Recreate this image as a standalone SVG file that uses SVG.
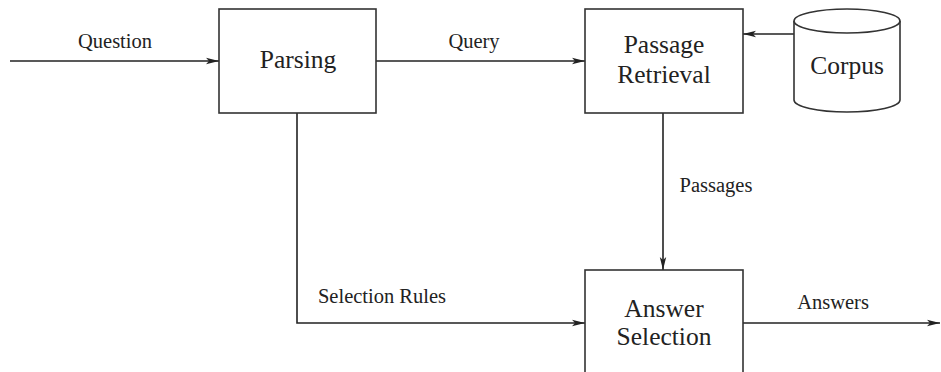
<svg xmlns="http://www.w3.org/2000/svg" width="941" height="372" viewBox="0 0 941 372">
<defs>
<style>
.box{fill:#fff;stroke:#333;stroke-width:1.6}
.edge{fill:none;stroke:#222;stroke-width:1.6}
.big{font-family:"Liberation Serif",serif;font-size:25.5px;fill:#222;text-anchor:middle}
.lbl{font-family:"Liberation Serif",serif;font-size:20.5px;fill:#222;text-anchor:middle}
</style>
<marker id="arr" markerWidth="14" markerHeight="8" refX="13" refY="4" orient="auto" markerUnits="userSpaceOnUse">
<path d="M0,0.8 L13,4 L0,7.2 L3,4 Z" fill="#222"/>
</marker>
</defs>
<rect width="941" height="372" fill="#fff"/>
<g id="connectors">
<line class="edge" x1="10" y1="61" x2="219" y2="61" marker-end="url(#arr)"/>
<text class="lbl" x="115" y="48">Question</text>
<line class="edge" x1="376" y1="61" x2="585" y2="61" marker-end="url(#arr)"/>
<text class="lbl" x="474" y="48">Query</text>
<line class="edge" x1="794" y1="34" x2="743" y2="34" marker-end="url(#arr)"/>
<line class="edge" x1="663" y1="113" x2="663" y2="270" marker-end="url(#arr)"/>
<text class="lbl" x="716" y="192">Passages</text>
<polyline class="edge" points="297,113 297,323 585,323" marker-end="url(#arr)"/>
<text class="lbl" x="382" y="303">Selection Rules</text>
<line class="edge" x1="743" y1="323" x2="940" y2="323" marker-end="url(#arr)"/>
<text class="lbl" x="833" y="309">Answers</text>
</g>
<g id="parsing">
<rect class="box" x="219" y="9" width="157" height="104"/>
<text class="big" x="298" y="68">Parsing</text>
</g>
<g id="passage-retrieval">
<rect class="box" x="585" y="9" width="158" height="104"/>
<text class="big" x="664" y="53">Passage</text>
<text class="big" x="664" y="83">Retrieval</text>
</g>
<g id="corpus">
<path class="box" d="M794,21 L794,100 A53,12 0 0 0 900,100 L900,21"/>
<ellipse class="box" cx="847" cy="21" rx="53" ry="12"/>
<text class="big" x="847" y="74">Corpus</text>
</g>
<g id="answer-selection">
<rect class="box" x="585" y="270" width="158" height="115"/>
<text class="big" x="664" y="317">Answer</text>
<text class="big" x="664" y="345">Selection</text>
</g>
</svg>
